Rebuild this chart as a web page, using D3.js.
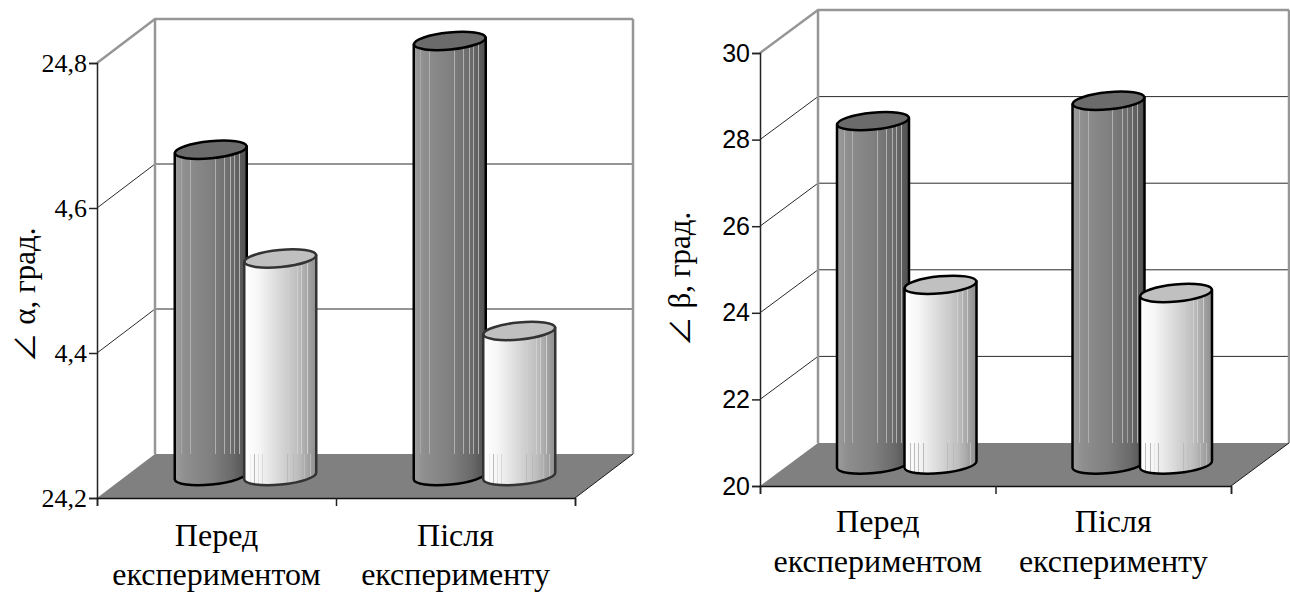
<!DOCTYPE html>
<html>
<head>
<meta charset="utf-8">
<script src="https://cdn.jsdelivr.net/npm/d3@7"></script>
<style>
body { margin: 0; background: #fff; }
svg { display: block; }
</style>
</head>
<body>
<svg id="chart" width="1290" height="592"></svg>
<script>
var categories = [["Перед", "експериментом"], ["Після", "експерименту"]];
var seriesNames = ["dark", "light"];

var alphaDark = [24.65, 24.80];
var alphaLight = [24.50, 24.40];
var alphaTicks = [24.2, 24.4, 24.6, 24.8];
var alphaTickLabels = ["24,2", "4,4", "4,6", "24,8"];

var betaDark = [27.93, 28.4];
var betaLight = [24.15, 23.96];
var betaTicks = [20, 22, 24, 26, 28, 30];
var betaTickLabels = ["20", "22", "24", "26", "28", "30"];

var svg = d3.select("#chart");
var defs = svg.append("defs");

// cylinder shading, streaky like the old office 3d charts
function addGradient(id, base, streaks, streakColor) {
    var stops = base.map(function (s) { return {o: s[0], c: s[1]}; });
    var shade = d3.scaleLinear().domain(base.map(function (s) { return s[0]; }))
      .range(base.map(function (s) { return s[1]; }));
    streaks.forEach(function (p) {
        stops.push({o: p - 0.007, c: shade(p - 0.007)});
        stops.push({o: p - 0.006, c: streakColor});
        stops.push({o: p + 0.006, c: streakColor});
        stops.push({o: p + 0.007, c: shade(p + 0.007)});
    });
    stops.sort(function (a, b) { return a.o - b.o; });
    var g = defs.append("linearGradient")
      .attr("id", id)
      .attr("x1", 0).attr("x2", 1).attr("y1", 0).attr("y2", 0);
    stops.forEach(function (s) {
        g.append("stop").attr("offset", s.o).attr("stop-color", s.c);
    });
}

var darkBase = [[0, "#9c9c9c"], [0.15, "#8e8e8e"], [0.5, "#808080"], [0.8, "#6a6a6a"], [1, "#505050"]];
var lightBase = [[0, "#ffffff"], [0.2, "#f6f6f6"], [0.45, "#dcdcdc"], [0.75, "#bdbdbd"], [1, "#8e8e8e"]];
addGradient("gradDark", darkBase, [0.1, 0.22, 0.56, 0.69, 0.77, 0.83, 0.9], "#b0b0b0");
addGradient("gradDarkFloor", darkBase, [], "#b0b0b0");
addGradient("gradLight", lightBase, [0.62, 0.74, 0.8, 0.88], "#cfcfcf");
addGradient("gradLightFloor", lightBase, [0.08, 0.14, 0.2, 0.26, 0.6, 0.68, 0.76, 0.84, 0.92], "#bbbbbb");

var chartCount = 0;

function drawChart(opt) {
    chartCount++;
    var y = d3.scaleLinear().domain(opt.domain).range([opt.bottom, opt.top]);
    var x = d3.scaleBand().domain(d3.range(categories.length)).range([opt.left, opt.right]);
    var xEdge = d3.scaleLinear().domain([0, categories.length]).range([opt.left, opt.right]);
    var xSeries = d3.scaleBand().domain(seriesNames).range([-opt.spacing, opt.spacing]);

    var dx = opt.depthX, dy = opt.depthY;
    var g = svg.append("g");

    var clipId = "floorClip" + chartCount;
    defs.append("clipPath").attr("id", clipId).append("rect")
      .attr("x", opt.left).attr("y", opt.bottom - dy)
      .attr("width", opt.right - opt.left + dx).attr("height", dy + 5);

    // floor
    g.append("path")
      .attr("d", d3.line()([
        [opt.left, opt.bottom], [opt.right, opt.bottom],
        [opt.right + dx, opt.bottom - dy], [opt.left + dx, opt.bottom - dy]
      ]))
      .attr("fill", "#808080");

    // gridlines, back wall and left side wall
    opt.ticks.forEach(function (t, i) {
        var isEnd = i == opt.ticks.length - 1;
        if (i == 0) return;
        g.append("path")
          .attr("d", d3.line()([
            [opt.left, y(t)], [opt.left + dx, y(t) - dy], [opt.right + dx, y(t) - dy]
          ]))
          .attr("fill", "none")
          .attr("stroke", isEnd ? "#969696" : "#2a2a2a")
          .attr("stroke-width", isEnd ? 2.5 : 1);
    });
    [opt.left + dx, opt.right + dx].forEach(function (wx) {
        g.append("path")
          .attr("d", d3.line()([[wx, opt.bottom - dy], [wx, opt.top - dy]]))
          .attr("stroke", "#969696").attr("stroke-width", 2.5);
    });
    g.append("path")
      .attr("d", d3.line()([
        [opt.right, opt.bottom], [opt.right + dx, opt.bottom - dy]
      ]))
      .attr("stroke", "#1a1a1a").attr("stroke-width", 1);

    // cylinders
    seriesNames.forEach(function (name, s) {
        var values = opt.values[s];
        var isDark = name == "dark";
        var lidFill = isDark ? "#6b6b6b" : "#c0c0c0";
        var edge = isDark ? "#000" : opt.lightEdge;
        var rx = 36, ry = 8.5, tilt = -5.5;
        var sl = Math.tan(tilt * Math.PI / 180) * rx;

        values.forEach(function (v, i) {
            var cx = x(i) + x.bandwidth() / 2 + dx / 2 + xSeries(name) + xSeries.bandwidth() / 2;
            var topY = y(v) - dy / 2;
            var baseY = y(opt.domain[0]) - dy / 2;

            var body = "M" + (cx - rx) + "," + (topY - sl)
              + "L" + (cx - rx) + "," + (baseY - sl)
              + "A" + rx + "," + ry + " " + tilt + " 0 0 " + (cx + rx) + "," + (baseY + sl)
              + "L" + (cx + rx) + "," + (topY + sl) + "Z";
            g.append("path")
              .attr("d", body)
              .attr("fill", isDark ? "url(#gradDark)" : "url(#gradLight)");
            g.append("path")
              .attr("d", body)
              .attr("clip-path", "url(#" + clipId + ")")
              .attr("fill", isDark ? "url(#gradDarkFloor)" : "url(#gradLightFloor)");
            g.append("path")
              .attr("d", body)
              .attr("fill", "none")
              .attr("stroke", edge)
              .attr("stroke-width", 2.5)
              .attr("stroke-linejoin", "round");
            g.append("ellipse")
              .attr("rx", rx).attr("ry", ry)
              .attr("transform", "translate(" + cx + "," + topY + ") rotate(" + tilt + ")")
              .attr("fill", lidFill)
              .attr("stroke", edge)
              .attr("stroke-width", 2.5);
        });
    });

    // axes
    var labels = {};
    opt.ticks.forEach(function (t, i) { labels[t] = opt.tickLabels[i]; });

    var yAxis = g.append("g")
      .attr("transform", "translate(" + opt.left + ",0)")
      .call(d3.axisLeft(y).tickValues(opt.ticks).tickSize(8).tickPadding(2)
        .tickFormat(function (d) { return labels[d]; }));
    yAxis.selectAll("text")
      .attr("font-family", opt.tickFont)
      .attr("font-size", opt.tickSize)
      .attr("fill", "#000");
    yAxis.selectAll("line").attr("stroke", "#222").attr("stroke-width", 1.5);
    yAxis.select(".domain").attr("stroke", "#222").attr("stroke-width", 1.5);

    var xAxis = g.append("g")
      .attr("transform", "translate(0," + opt.bottom + ")")
      .call(d3.axisBottom(xEdge).ticks(categories.length).tickSize(8).tickFormat(""));
    xAxis.selectAll("line").attr("stroke", "#222").attr("stroke-width", 1.5);
    xAxis.select(".domain").attr("stroke", "#111").attr("stroke-width", 1.5);

    // category labels, two lines each
    categories.forEach(function (c, i) {
        var t = g.append("text")
          .attr("text-anchor", "middle")
          .attr("font-family", "Liberation Serif")
          .attr("font-size", 32)
          .attr("fill", "#000");
        t.append("tspan").attr("x", x(i) + x.bandwidth() / 2).attr("y", opt.labelY1).text(c[0]);
        t.append("tspan").attr("x", x(i) + x.bandwidth() / 2).attr("y", opt.labelY2).text(c[1]);
    });

    // y title
    var title = g.append("text")
      .attr("transform", "translate(" + opt.titleX + "," + opt.titleY + ") rotate(-90)")
      .attr("text-anchor", "middle")
      .attr("font-family", "Liberation Serif")
      .attr("font-size", 31)
      .attr("fill", "#000");
    title.append("tspan").attr("font-family", "Noto Sans CJK JP").attr("font-size", 30).text("∠");
    title.append("tspan").text(opt.title);
}

drawChart({
    domain: [24.2, 24.8], top: 63, bottom: 498, left: 97, right: 575,
    depthX: 58, depthY: 44, spacing: 69.5,
    values: [alphaDark, alphaLight],
    ticks: alphaTicks, tickLabels: alphaTickLabels,
    tickFont: "Liberation Serif", tickSize: 26,
    lightEdge: "#333",
    labelY1: 546, labelY2: 585,
    title: " α, град.", titleX: 35, titleY: 295
});

drawChart({
    domain: [20, 30], top: 53, bottom: 486, left: 760, right: 1231,
    depthX: 58, depthY: 43, spacing: 67.5,
    values: [betaDark, betaLight],
    ticks: betaTicks, tickLabels: betaTickLabels,
    tickFont: "Liberation Sans", tickSize: 25,
    lightEdge: "#000",
    labelY1: 532, labelY2: 572,
    title: " β, град.", titleX: 690, titleY: 279
});
</script>
</body>
</html>
